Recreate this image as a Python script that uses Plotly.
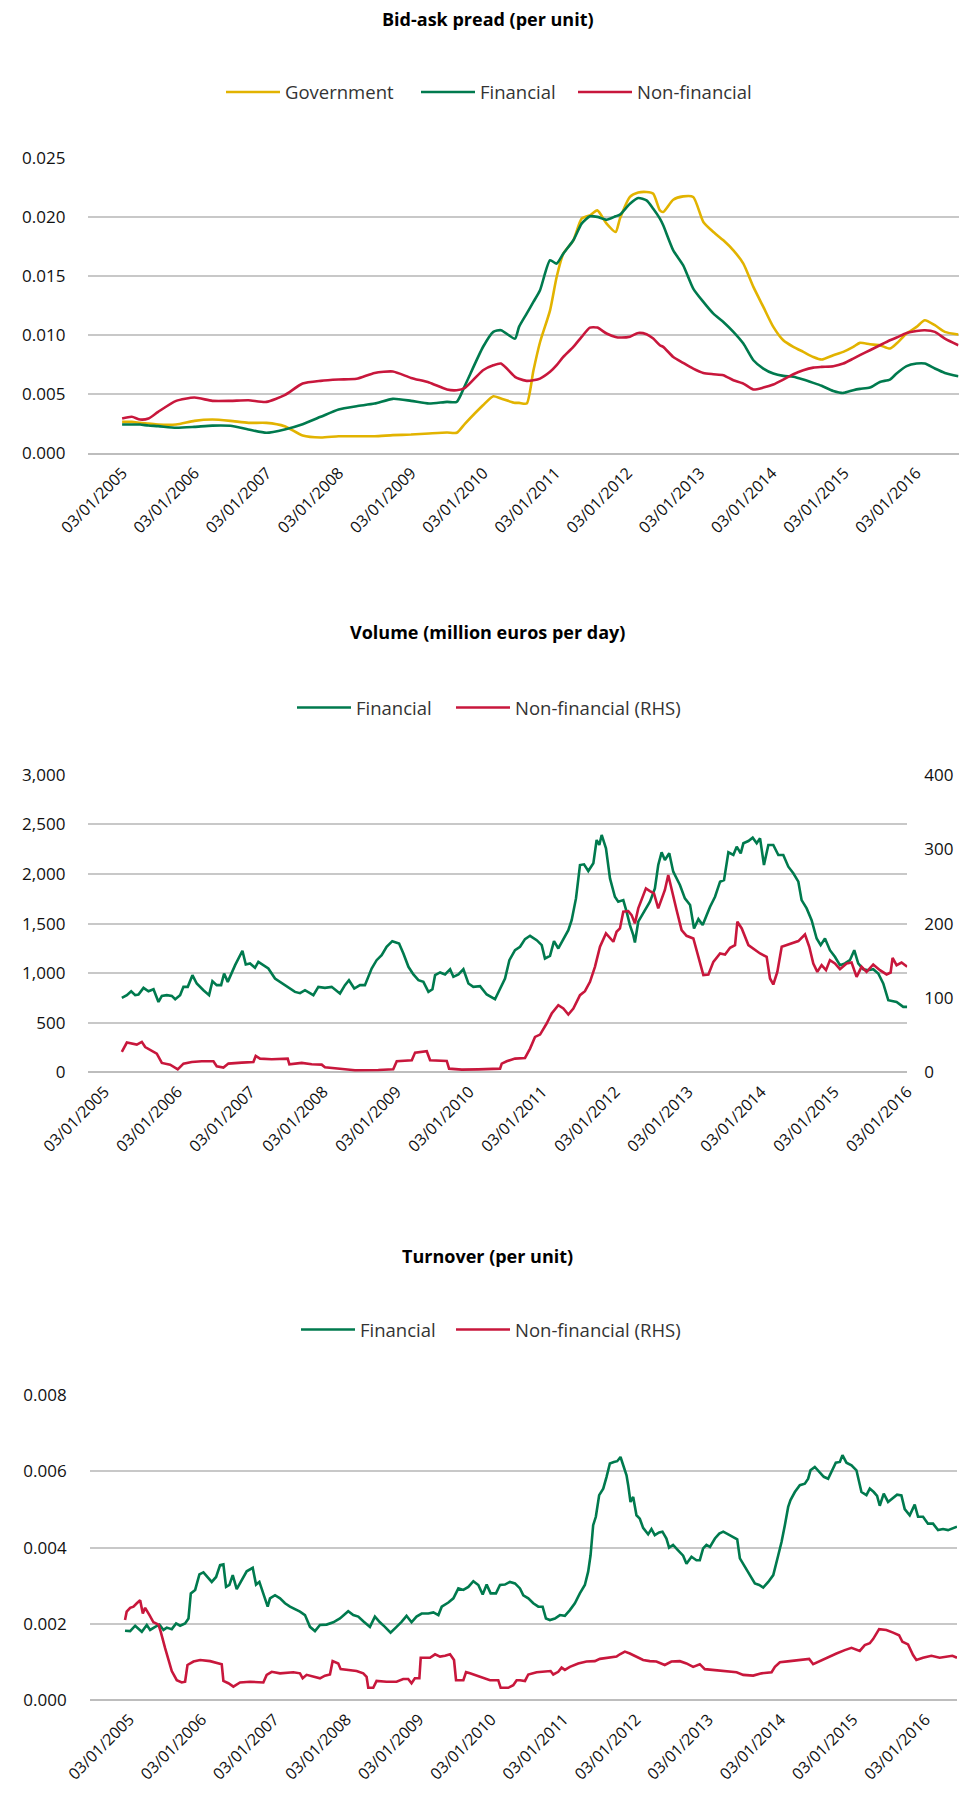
import plotly.graph_objects as go
import pandas as pd

# ---------------- data (decimal years) ----------------
# Chart 1: Bid-ask spread (per unit)
spread_years = [
    2005.000, 2005.134, 2005.249, 2005.365, 2005.499, 2005.748, 2006.002, 2006.251, 2006.500, 2006.750,
    2007.000, 2007.253, 2007.502, 2007.752, 2008.001, 2008.250, 2008.500, 2008.753, 2009.003, 2009.252,
    2009.501, 2009.635, 2009.751, 2010.000, 2010.143, 2010.249, 2010.443, 2010.499, 2010.605, 2010.698,
    2010.790, 2010.929, 2011.021, 2011.113, 2011.252, 2011.367, 2011.482, 2011.584, 2011.713, 2011.838,
    2011.898, 2012.037, 2012.152, 2012.267, 2012.360, 2012.452, 2012.498, 2012.637, 2012.775, 2012.914,
    2013.052, 2013.191, 2013.329, 2013.468, 2013.606, 2013.745, 2013.883, 2014.022, 2014.160, 2014.299,
    2014.437, 2014.576, 2014.691, 2014.853, 2014.991, 2015.130, 2015.222, 2015.361, 2015.499, 2015.638,
    2015.730, 2015.869, 2016.007, 2016.122, 2016.261, 2016.400, 2016.587]
spread_government = [
    .00267, .00267, .00259, .00253, .00245, .00245, .00276, .00287, .00276, .00259,
    .00259, .00231, .00152, .00135, .00146, .00146, .00146, .00155, .00160, .00169,
    .00177, .00175, .00253, .00408, .00484, .00465, .00428, .00428, .00422, .00700,
    .00940, .01210, .01492, .01689, .01802, .01985, .02013, .02055, .01943, .01872,
    .01985, .02168, .02205, .02210, .02196, .02055, .02041, .02145, .02173, .02168,
    .01957, .01872, .01802, .01717, .01605, .01408, .01239, .01070, .00957, .00901,
    .00859, .00816, .00794, .00831, .00859, .00901, .00935, .00923, .00915, .00887,
    .00929, .01014, .01070, .01126, .01084, .01028, .01005]
spread_financial = [
    .00245, .00245, .00245, .00236, .00231, .00217, .00225, .00236, .00234, .00203,
    .00175, .00203, .00248, .00310, .00372, .00400, .00422, .00462, .00445, .00422,
    .00436, .00436, .00577, .00900, .01028, .01042, .00971, .01070, .01182, .01281,
    .01380, .01633, .01605, .01689, .01802, .01943, .02005, .02000, .01976, .02005,
    .02019, .02111, .02159, .02139, .02069, .01985, .01929, .01717, .01590, .01394,
    .01281, .01182, .01112, .01028, .00929, .00788, .00718, .00676, .00656, .00648,
    .00625, .00597, .00572, .00529, .00512, .00535, .00546, .00557, .00605, .00625,
    .00676, .00738, .00760, .00760, .00718, .00681, .00653]
spread_nonfinancial = [
    .00296, .00310, .00287, .00296, .00352, .00445, .00473, .00445, .00445, .00450,
    .00436, .00493, .00591, .00614, .00625, .00631, .00681, .00693, .00639, .00600,
    .00541, .00535, .00555, .00704, .00746, .00760, .00648, .00631, .00614, .00619,
    .00633, .00690, .00746, .00816, .00901, .00985, .01064, .01064, .01014, .00985,
    .00980, .00987, .01019, .01008, .00971, .00915, .00901, .00816, .00766, .00718,
    .00681, .00670, .00662, .00619, .00591, .00541, .00557, .00583, .00625, .00670,
    .00704, .00726, .00732, .00738, .00760, .00802, .00831, .00873, .00915, .00957,
    .00980, .01019, .01036, .01042, .01028, .00971, .00915]

# Chart 2: Volume (million euros per day)
volume_fin_years = [
    2005.242, 2005.311, 2005.370, 2005.425, 2005.470, 2005.539, 2005.607, 2005.676, 2005.744, 2005.790,
    2005.858, 2005.927, 2005.973, 2006.041, 2006.087, 2006.146, 2006.210, 2006.269, 2006.361, 2006.438,
    2006.484, 2006.543, 2006.603, 2006.644, 2006.694, 2006.795, 2006.895, 2006.941, 2007.000, 2007.068,
    2007.114, 2007.183, 2007.251, 2007.342, 2007.411, 2007.479, 2007.548, 2007.616, 2007.685, 2007.753,
    2007.868, 2007.936, 2008.027, 2008.119, 2008.233, 2008.301, 2008.356, 2008.429, 2008.507, 2008.575,
    2008.667, 2008.735, 2008.804, 2008.872, 2008.950, 2009.041, 2009.100, 2009.169, 2009.237, 2009.306,
    2009.374, 2009.443, 2009.498, 2009.534, 2009.603, 2009.671, 2009.740, 2009.785, 2009.854, 2009.922,
    2009.991, 2010.059, 2010.151, 2010.242, 2010.356, 2010.425, 2010.493, 2010.553, 2010.630, 2010.699,
    2010.767, 2010.836, 2010.927, 2010.996, 2011.041, 2011.110, 2011.165, 2011.224, 2011.293, 2011.361,
    2011.407, 2011.466, 2011.521, 2011.576, 2011.635, 2011.704, 2011.749, 2011.786, 2011.818, 2011.877,
    2011.932, 2012.000, 2012.046, 2012.115, 2012.160, 2012.206, 2012.252, 2012.274, 2012.320, 2012.388,
    2012.480, 2012.548, 2012.594, 2012.640, 2012.685, 2012.745, 2012.799, 2012.891, 2012.959, 2013.028,
    2013.082, 2013.142, 2013.201, 2013.256, 2013.302, 2013.370, 2013.439, 2013.493, 2013.553, 2013.621,
    2013.667, 2013.722, 2013.758, 2013.827, 2013.886, 2013.941, 2013.987, 2014.041, 2014.101, 2014.169,
    2014.238, 2014.306, 2014.375, 2014.443, 2014.512, 2014.557, 2014.626, 2014.694, 2014.763, 2014.818,
    2014.877, 2014.945, 2015.014, 2015.083, 2015.151, 2015.219, 2015.279, 2015.333, 2015.402, 2015.471,
    2015.539, 2015.608, 2015.676, 2015.745, 2015.859, 2015.950, 2016.005]
volume_financial = [
    751, 778, 818, 778, 785, 852, 818, 838, 710, 771,
    778, 771, 737, 778, 862, 862, 980, 896, 828, 778,
    919, 879, 879, 997, 912, 1081, 1226, 1088, 1098, 1054,
    1114, 1081, 1047, 946, 912, 879, 852, 811, 798, 828,
    778, 862, 852, 862, 795, 879, 929, 845, 879, 879,
    1047, 1131, 1182, 1266, 1323, 1300, 1199, 1064, 987, 929,
    912, 811, 838, 980, 1007, 987, 1040, 963, 987, 1040,
    896, 862, 869, 785, 737, 838, 946, 1131, 1232, 1266,
    1343, 1377, 1333, 1283, 1148, 1175, 1323, 1249, 1343, 1434,
    1535, 1754, 2091, 2098, 2030, 2108, 2343, 2293, 2394, 2259,
    1956, 1771, 1721, 1737, 1620, 1485, 1384, 1310, 1519, 1603,
    1721, 1855, 2091, 2219, 2141, 2209, 2024, 1889, 1754, 1687,
    1451, 1545, 1485, 1586, 1670, 1771, 1923, 1939, 2219, 2192,
    2276, 2209, 2310, 2333, 2367, 2310, 2360, 2091, 2293, 2293,
    2192, 2192, 2074, 2007, 1923, 1737, 1653, 1535, 1350, 1283,
    1350, 1232, 1165, 1081, 1098, 1131, 1232, 1098, 1040, 1030,
    1040, 997, 896, 727, 710, 660, 660]

volume_nonfin_years = [
    2005.242, 2005.311, 2005.447, 2005.516, 2005.562, 2005.653, 2005.721, 2005.790, 2005.904, 2006.009,
    2006.087, 2006.201, 2006.338, 2006.498, 2006.543, 2006.635, 2006.703, 2006.886, 2007.046, 2007.078,
    2007.137, 2007.297, 2007.516, 2007.539, 2007.708, 2007.845, 2007.982, 2008.027, 2008.256, 2008.438,
    2008.758, 2008.963, 2009.009, 2009.215, 2009.260, 2009.420, 2009.466, 2009.694, 2009.726, 2009.900,
    2010.128, 2010.425, 2010.448, 2010.516, 2010.630, 2010.767, 2010.836, 2010.904, 2010.973, 2011.064,
    2011.133, 2011.224, 2011.293, 2011.361, 2011.430, 2011.521, 2011.589, 2011.658, 2011.726, 2011.795,
    2011.877, 2011.932, 2011.978, 2012.023, 2012.069, 2012.115, 2012.183, 2012.229, 2012.274, 2012.320,
    2012.366, 2012.425, 2012.480, 2012.535, 2012.594, 2012.640, 2012.685, 2012.731, 2012.777, 2012.845,
    2012.914, 2012.982, 2013.073, 2013.142, 2013.210, 2013.279, 2013.347, 2013.439, 2013.507, 2013.576,
    2013.644, 2013.676, 2013.736, 2013.827, 2013.895, 2013.987, 2014.078, 2014.124, 2014.169, 2014.224,
    2014.284, 2014.352, 2014.443, 2014.512, 2014.603, 2014.662, 2014.717, 2014.772, 2014.831, 2014.891,
    2014.945, 2015.014, 2015.083, 2015.174, 2015.242, 2015.311, 2015.379, 2015.448, 2015.539, 2015.631,
    2015.722, 2015.777, 2015.804, 2015.859, 2015.927, 2016.005]
volume_nonfinancial = [
    27.4, 40.0, 37.3, 40.9, 34.0, 28.3, 25.1, 12.6, 10.3, 4.0,
    11.7, 13.9, 14.8, 14.8, 8.1, 6.3, 11.7, 13.0, 13.9, 22.0,
    18.4, 17.5, 18.4, 10.8, 12.6, 10.8, 10.3, 6.7, 4.9, 2.7,
    3.1, 4.0, 14.8, 16.2, 26.5, 28.3, 16.2, 15.3, 4.9, 3.6,
    4.0, 4.9, 11.7, 14.8, 18.4, 19.3, 31.9, 47.6, 50.7, 65.6,
    79.0, 90.2, 85.8, 77.7, 85.8, 103.7, 109.1, 121.7, 141.9, 168.8,
    186.8, 180.0, 175.6, 189.0, 193.5, 216.0, 216.9, 211.5, 200.3, 220.5,
    231.7, 247.4, 243.8, 240.7, 220.5, 231.7, 245.2, 265.4, 245.2, 218.2,
    191.3, 183.6, 180.0, 155.4, 130.7, 131.6, 148.6, 159.8, 158.5, 167.5,
    171.1, 202.5, 193.5, 171.1, 166.6, 159.8, 155.4, 126.2, 118.1, 135.1,
    168.8, 171.1, 173.3, 176.5, 185.4, 168.8, 146.4, 135.1, 144.1, 137.4,
    150.9, 146.4, 138.7, 146.4, 147.7, 128.4, 141.9, 135.1, 145.0, 137.4,
    131.6, 134.2, 154.0, 144.1, 147.7, 141.9]

# Chart 3: Turnover (per unit)
turnover_fin_years = [
    2004.945, 2005.014, 2005.083, 2005.175, 2005.244, 2005.290, 2005.359, 2005.419, 2005.474, 2005.520,
    2005.589, 2005.649, 2005.704, 2005.773, 2005.820, 2005.852, 2005.912, 2005.971, 2006.027, 2006.082,
    2006.142, 2006.202, 2006.257, 2006.303, 2006.340, 2006.386, 2006.432, 2006.487, 2006.556, 2006.625,
    2006.708, 2006.754, 2006.800, 2006.855, 2006.915, 2006.947, 2007.017, 2007.086, 2007.155, 2007.224,
    2007.293, 2007.362, 2007.431, 2007.500, 2007.569, 2007.638, 2007.730, 2007.822, 2007.914, 2008.029,
    2008.099, 2008.168, 2008.237, 2008.329, 2008.398, 2008.467, 2008.536, 2008.614, 2008.697, 2008.766,
    2008.835, 2008.904, 2008.973, 2009.042, 2009.134, 2009.204, 2009.273, 2009.319, 2009.411, 2009.480,
    2009.549, 2009.618, 2009.687, 2009.756, 2009.825, 2009.885, 2009.940, 2009.995, 2010.069, 2010.125,
    2010.193, 2010.262, 2010.332, 2010.401, 2010.447, 2010.516, 2010.585, 2010.654, 2010.714, 2010.760,
    2010.815, 2010.884, 2010.953, 2011.022, 2011.091, 2011.160, 2011.229, 2011.298, 2011.344, 2011.377,
    2011.413, 2011.450, 2011.496, 2011.552, 2011.598, 2011.644, 2011.699, 2011.745, 2011.791, 2011.828,
    2011.874, 2011.897, 2011.929, 2011.966, 2012.012, 2012.058, 2012.104, 2012.173, 2012.219, 2012.265,
    2012.325, 2012.371, 2012.426, 2012.463, 2012.518, 2012.587, 2012.657, 2012.703, 2012.772, 2012.841,
    2012.887, 2012.933, 2012.979, 2013.025, 2013.094, 2013.154, 2013.209, 2013.278, 2013.347, 2013.402,
    2013.439, 2013.508, 2013.577, 2013.646, 2013.706, 2013.761, 2013.831, 2013.900, 2013.969, 2014.015,
    2014.061, 2014.107, 2014.139, 2014.199, 2014.268, 2014.337, 2014.383, 2014.415, 2014.475, 2014.544,
    2014.599, 2014.659, 2014.705, 2014.765, 2014.821, 2014.857, 2014.912, 2014.982, 2015.051, 2015.087,
    2015.120, 2015.189, 2015.235, 2015.290, 2015.336, 2015.373, 2015.428, 2015.488, 2015.548, 2015.612,
    2015.672, 2015.718, 2015.787, 2015.856, 2015.902, 2015.971, 2016.040, 2016.110, 2016.179, 2016.248,
    2016.317, 2016.386, 2016.441]
turnover_financial = [
    .00182, .00181, .00195, .00179, .00197, .00184, .00192, .00198, .00184, .00190,
    .00186, .00201, .00195, .00201, .00214, .00280, .00289, .00330, .00335, .00323,
    .00310, .00323, .00354, .00356, .00297, .00302, .00328, .00291, .00315, .00338,
    .00347, .00303, .00310, .00280, .00245, .00267, .00275, .00267, .00254, .00245,
    .00239, .00232, .00223, .00192, .00181, .00197, .00198, .00204, .00214, .00233,
    .00223, .00219, .00207, .00192, .00219, .00204, .00192, .00177, .00192, .00205,
    .00221, .00204, .00219, .00227, .00227, .00230, .00223, .00245, .00256, .00267,
    .00293, .00289, .00297, .00312, .00302, .00277, .00303, .00280, .00280, .00302,
    .00303, .00310, .00306, .00293, .00275, .00267, .00254, .00245, .00245, .00214,
    .00210, .00214, .00223, .00221, .00236, .00254, .00280, .00302, .00337, .00380,
    .00459, .00481, .00538, .00555, .00586, .00621, .00625, .00627, .00638, .00616,
    .00590, .00564, .00520, .00533, .00485, .00476, .00452, .00435, .00449, .00433,
    .00440, .00442, .00424, .00400, .00407, .00393, .00379, .00358, .00376, .00367,
    .00367, .00398, .00407, .00402, .00424, .00437, .00442, .00435, .00428, .00422,
    .00372, .00350, .00328, .00306, .00302, .00295, .00310, .00328, .00380, .00415,
    .00459, .00507, .00525, .00546, .00564, .00568, .00581, .00603, .00612, .00597,
    .00586, .00581, .00601, .00623, .00625, .00643, .00623, .00616, .00603, .00573,
    .00546, .00538, .00555, .00546, .00536, .00510, .00542, .00520, .00529, .00539,
    .00537, .00501, .00485, .00513, .00481, .00481, .00463, .00463, .00446, .00449,
    .00446, .00450, .00455]

turnover_nonfin_years = [
    2004.945, 2004.968, 2005.014, 2005.060, 2005.106, 2005.152, 2005.189, 2005.221, 2005.281, 2005.336,
    2005.405, 2005.437, 2005.497, 2005.543, 2005.589, 2005.658, 2005.727, 2005.773, 2005.806, 2005.889,
    2005.981, 2006.119, 2006.234, 2006.280, 2006.303, 2006.372, 2006.441, 2006.533, 2006.671, 2006.855,
    2006.901, 2006.971, 2007.086, 2007.270, 2007.362, 2007.399, 2007.454, 2007.546, 2007.638, 2007.707,
    2007.776, 2007.813, 2007.891, 2007.924, 2008.029, 2008.145, 2008.237, 2008.283, 2008.306, 2008.375,
    2008.421, 2008.559, 2008.697, 2008.789, 2008.858, 2008.904, 2008.950, 2009.010, 2009.029, 2009.157,
    2009.227, 2009.296, 2009.365, 2009.434, 2009.489, 2009.517, 2009.618, 2009.655, 2009.710, 2009.802,
    2009.894, 2009.986, 2010.101, 2010.134, 2010.239, 2010.308, 2010.355, 2010.401, 2010.470, 2010.516,
    2010.631, 2010.746, 2010.824, 2010.861, 2010.930, 2010.976, 2011.022, 2011.091, 2011.206, 2011.321,
    2011.436, 2011.506, 2011.644, 2011.736, 2011.782, 2011.851, 2011.920, 2011.989, 2012.104, 2012.196,
    2012.288, 2012.403, 2012.495, 2012.611, 2012.703, 2012.795, 2012.887, 2012.956, 2013.071, 2013.209,
    2013.301, 2013.393, 2013.485, 2013.623, 2013.738, 2013.877, 2013.923, 2013.992, 2014.130, 2014.268,
    2014.397, 2014.452, 2014.544, 2014.659, 2014.774, 2014.889, 2014.982, 2015.097, 2015.166, 2015.235,
    2015.281, 2015.364, 2015.465, 2015.557, 2015.640, 2015.686, 2015.764, 2015.833, 2015.879, 2015.971,
    2016.087, 2016.202, 2016.294, 2016.377, 2016.441]
turnover_nonfinancial = [
    .00210, .00232, .00242, .00245, .00254, .00262, .00227, .00242, .00223, .00204,
    .00198, .00179, .00136, .00108, .00076, .00052, .00046, .00048, .00092, .00101,
    .00105, .00102, .00096, .00094, .00050, .00044, .00035, .00046, .00048, .00046,
    .00066, .00074, .00070, .00073, .00070, .00057, .00066, .00061, .00057, .00064,
    .00067, .00102, .00096, .00081, .00079, .00076, .00070, .00061, .00032, .00032,
    .00050, .00048, .00048, .00055, .00055, .00044, .00057, .00057, .00111, .00111,
    .00120, .00114, .00116, .00120, .00105, .00052, .00052, .00073, .00070, .00064,
    .00057, .00052, .00052, .00032, .00032, .00039, .00052, .00052, .00050, .00067,
    .00073, .00074, .00076, .00067, .00074, .00085, .00079, .00087, .00096, .00101,
    .00102, .00108, .00111, .00114, .00120, .00127, .00122, .00116, .00105, .00102,
    .00101, .00092, .00101, .00102, .00096, .00087, .00094, .00081, .00079, .00076,
    .00076, .00073, .00066, .00064, .00070, .00073, .00087, .00099, .00102, .00105,
    .00108, .00094, .00102, .00114, .00122, .00131, .00137, .00129, .00144, .00149,
    .00160, .00186, .00184, .00177, .00170, .00153, .00146, .00118, .00105, .00111,
    .00116, .00111, .00114, .00116, .00111]

tick_years = list(range(2005, 2017))
tick_labels = [f"03/01/{y}" for y in tick_years]

# x-axis extents (decimal years) of each panel
spread_xrange = [2004.535, 2016.590]
volume_xrange = [2004.786, 2016.005]
turnover_xrange = [2004.457, 2016.441]


def to_date(y):
    base = pd.Timestamp(year=int(y), month=1, day=1)
    return base + pd.Timedelta(days=(y - int(y)) * 365.25)


def to_dates(ys):
    return [to_date(y) for y in ys]


tick_dates = [pd.Timestamp(year=y, month=1, day=3) for y in tick_years]

GOLD = "#E2B300"
GREEN = "#007A4E"
RED = "#C8173C"
GRID = "#C8C8C8"
FONT = "Open Sans"
LW = 2.6
W, H = 970.0, 1798.0


def py(px):
    return 1 - px / H


fig = go.Figure()

# Chart 1
fig.add_trace(go.Scatter(x=to_dates(spread_years), y=spread_government, name="Government",
                         mode="lines", line=dict(color=GOLD, width=LW, shape="spline", smoothing=0.6),
                         xaxis="x", yaxis="y", legend="legend"))
fig.add_trace(go.Scatter(x=to_dates(spread_years), y=spread_financial, name="Financial",
                         mode="lines", line=dict(color=GREEN, width=LW, shape="spline", smoothing=0.6),
                         xaxis="x", yaxis="y", legend="legend2"))
fig.add_trace(go.Scatter(x=to_dates(spread_years), y=spread_nonfinancial, name="Non-financial",
                         mode="lines", line=dict(color=RED, width=LW, shape="spline", smoothing=0.6),
                         xaxis="x", yaxis="y", legend="legend3"))

# Chart 2
fig.add_trace(go.Scatter(x=to_dates(volume_fin_years), y=volume_financial, name="Financial",
                         mode="lines", line=dict(color=GREEN, width=LW),
                         xaxis="x2", yaxis="y2", legend="legend4"))
fig.add_trace(go.Scatter(x=to_dates(volume_nonfin_years), y=volume_nonfinancial, name="Non-financial (RHS)",
                         mode="lines", line=dict(color=RED, width=LW),
                         xaxis="x2", yaxis="y3", legend="legend5"))

# Chart 3
fig.add_trace(go.Scatter(x=to_dates(turnover_fin_years), y=turnover_financial, name="Financial",
                         mode="lines", line=dict(color=GREEN, width=LW),
                         xaxis="x3", yaxis="y4", legend="legend6"))
fig.add_trace(go.Scatter(x=to_dates(turnover_nonfin_years), y=turnover_nonfinancial, name="Non-financial (RHS)",
                         mode="lines", line=dict(color=RED, width=LW),
                         xaxis="x3", yaxis="y5", legend="legend7"))

xfont = dict(family=FONT, size=16, color="#111111")
yfont = dict(family=FONT, size=17, color="#111111")


def xaxis_cfg(domain, anchor, xr):
    return dict(domain=domain, anchor=anchor, type="date", automargin=False,
                range=[to_date(xr[0]), to_date(xr[1])],
                tickmode="array", tickvals=tick_dates, ticktext=tick_labels,
                tickangle=-45, tickfont=xfont, showgrid=False, zeroline=False,
                showline=False, ticks="", ticklabelstandoff=6)


def yaxis_cfg(domain, anchor, rng, dtick, fmt):
    return dict(domain=domain, anchor=anchor, range=rng, dtick=dtick, tick0=0, automargin=False,
                tickformat=fmt, tickfont=yfont, showgrid=True, gridcolor=GRID,
                gridwidth=1.5, zeroline=True, zerolinecolor="#BDBDBD", zerolinewidth=1.5,
                showline=False, ticks="", ticklabelstandoff=22)


def legend_at(line_left_px, center_px):
    return dict(orientation="h", x=(line_left_px - 5) / W, xanchor="left",
                y=py(center_px), yanchor="middle",
                font=dict(family=FONT, size=18.5, color="#333333"), itemwidth=54,
                bgcolor="rgba(0,0,0,0)", borderwidth=0,
                itemclick=False, itemdoubleclick=False)


fig.update_layout(
    width=970, height=1798,
    margin=dict(l=0, r=0, t=0, b=0, pad=0, autoexpand=False),
    paper_bgcolor="white", plot_bgcolor="white",
    font=dict(family=FONT, color="#111111"),
    hovermode=False,
    xaxis=xaxis_cfg([88.4 / W, 958.6 / W], "y", spread_xrange),
    yaxis=yaxis_cfg([py(453.5), py(157.7)], "x", [0, 0.025], 0.005, ".3f"),
    xaxis2=xaxis_cfg([88.4 / W, 907.2 / W], "y2", volume_xrange),
    yaxis2=yaxis_cfg([py(1072.3), py(774.9)], "x2", [0, 3000], 500, ",d"),
    yaxis3=dict(overlaying="y2", side="right", anchor="x2", range=[0, 400], dtick=100,
                tickfont=yfont, showgrid=False, zeroline=False, showline=False, automargin=False,
                ticks="", ticklabelstandoff=16),
    xaxis3=xaxis_cfg([89.7 / W, 957.0 / W], "y4", turnover_xrange),
    yaxis4=yaxis_cfg([py(1700.0), py(1395.3)], "x3", [0, 0.008], 0.002, ".3f"),
    yaxis5=dict(overlaying="y4", side="right", anchor="x3", range=[0, 0.008], visible=False,
                automargin=False),
    legend=legend_at(226, 92.5),
    legend2=legend_at(421, 92.5),
    legend3=legend_at(578, 92.5),
    legend4=legend_at(297, 708),
    legend5=legend_at(456, 708),
    legend6=legend_at(301, 1330),
    legend7=legend_at(456, 1330),
    showlegend=True,
)

titles = [("Bid-ask pread (per unit)", 19), ("Volume (million euros per day)", 632),
          ("Turnover (per unit)", 1255.5)]
for text, ypix in titles:
    fig.add_annotation(text=f"<b>{text}</b>", xref="paper", yref="paper", x=0.503, y=py(ypix),
                       xanchor="center", yanchor="middle", showarrow=False,
                       font=dict(family=FONT, size=18, color="#000000"))

fig.write_html("out.html",
               config={"displayModeBar": False, "staticPlot": False},
               post_script="document.body.style.margin='0px';document.body.style.overflow='hidden';")
